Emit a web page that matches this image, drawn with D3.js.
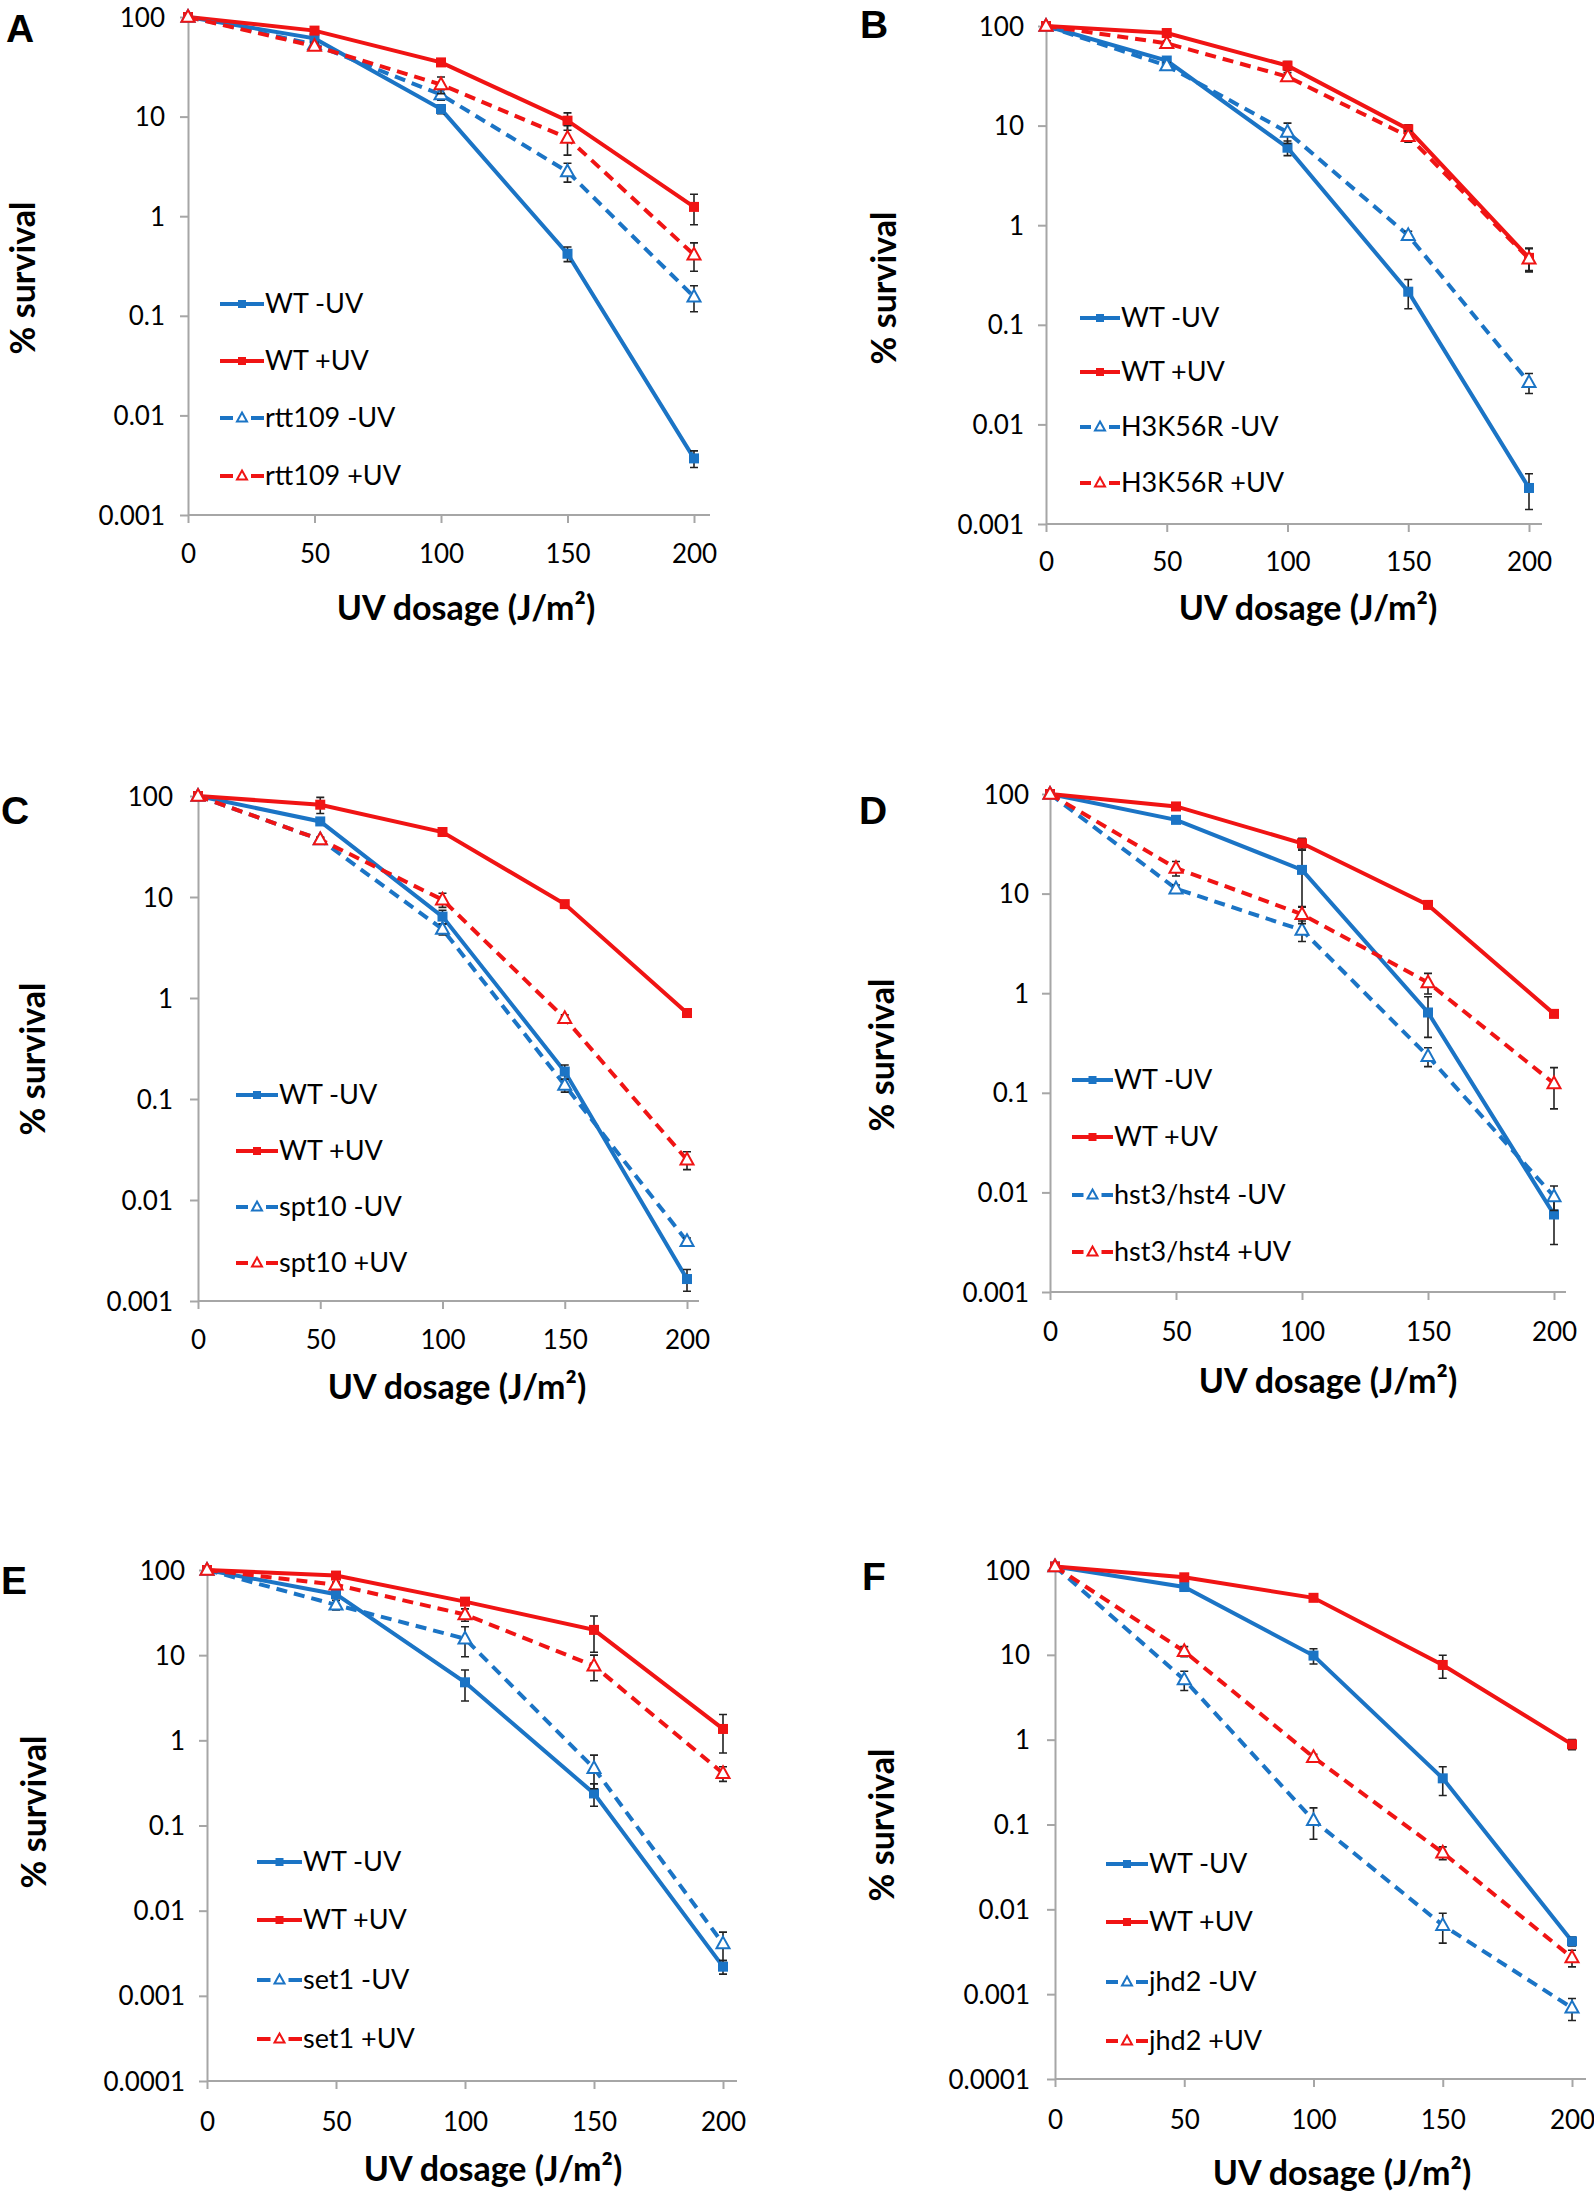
<!DOCTYPE html>
<html>
<head>
<meta charset="utf-8">
<script src="https://cdn.jsdelivr.net/npm/d3@7"></script>
<style>
  body { margin: 0; background: #fff; }
  svg text { font-family: Lato, "Open Sans", sans-serif; fill: #000; }
</style>
</head>
<body>
<svg id="fig" width="1594" height="2191"></svg>
<script>
// ---- data ----
const doses = [0, 50, 100, 150, 200];
const yTicksShort = [100, 10, 1, 0.1, 0.01, 0.001];
const yTicksLong = [100, 10, 1, 0.1, 0.01, 0.001, 0.0001];
const panelLetters = ['A', 'B', 'C', 'D', 'E', 'F'];
const mutants = ['rtt109', 'H3K56R', 'spt10', 'hst3/hst4', 'set1', 'jhd2'];

// A: rtt109
const aWtMinus = [100, 61, 11.9, 0.42, 0.0037];
const aWtMinusErr = [0, 4, 1.2, 0.07, 0.0007];
const aWtPlus = [100, 73, 35, 9.1, 1.24];
const aWtPlusErr = [0, 5, 3, 1.8, 0.42];
const aMutMinus = [100, 53, 16.6, 2.8, 0.155];
const aMutMinusErr = [0, 3, 2, 0.6, 0.045];
const aMutPlus = [100, 51, 21, 6.1, 0.41];
const aMutPlusErr = [0, 3, 4, 2, 0.13];

// B: H3K56R
const bWtMinus = [100, 45, 6.0, 0.215, 0.0023];
const bWtMinusErr = [0, 3, 1, 0.07, 0.0009];
const bWtPlus = [100, 85, 40, 9.2, 0.47];
const bWtPlusErr = [0, 5, 4, 1, 0.12];
const bMutMinus = [100, 40, 8.6, 0.79, 0.0264];
const bMutMinusErr = [0, 3, 2, 0.08, 0.006];
const bMutPlus = [100, 67, 31, 7.8, 0.46];
const bMutPlusErr = [0, 4, 3, 1, 0.12];

// C: spt10
const cWtMinus = [100, 56, 6.4, 0.187, 0.00165];
const cWtMinusErr = [0, 4, 1, 0.03, 0.0004];
const cWtPlus = [100, 82, 44, 8.5, 0.71];
const cWtPlusErr = [0, 15, 3, 0.6, 0.05];
const cMutMinus = [100, 37, 4.8, 0.137, 0.0039];
const cMutMinusErr = [0, 2, 0.6, 0.02, 0.0003];
const cMutPlus = [100, 37, 9.4, 0.63, 0.025];
const cMutPlusErr = [0, 2, 1.5, 0.05, 0.005];

// D: hst3/hst4
const dWtMinus = [100, 55, 17.3, 0.64, 0.006];
const dWtMinusErr = [0, 3, 10, 0.28, 0.003];
const dWtPlus = [100, 75, 32, 7.7, 0.62];
const dWtPlusErr = [0, 4, 4, 0.5, 0.04];
const dMutMinus = [100, 11.2, 4.3, 0.233, 0.0091];
const dMutMinusErr = [0, 1, 1, 0.05, 0.0025];
const dMutPlus = [100, 18, 6.2, 1.28, 0.124];
const dMutPlusErr = [0, 3, 1.2, 0.3, 0.055];

// E: set1
const eWtMinus = [100, 52, 4.8, 0.238, 0.0022];
const eWtMinusErr = [0, 3, 1.9, 0.07, 0.0004];
const eWtPlus = [100, 86, 42.5, 19.8, 1.36];
const eWtPlusErr = [0, 5, 4, 9, 0.65];
const eMutMinus = [100, 39, 15.6, 0.47, 0.0041];
const eMutMinusErr = [0, 5, 6, 0.2, 0.0015];
const eMutPlus = [100, 67, 30, 7.5, 0.41];
const eMutPlusErr = [0, 5, 5, 2.5, 0.08];

// F: jhd2
const fWtMinus = [110, 63, 9.8, 0.35, 0.0042];
const fWtMinusErr = [0, 3, 2, 0.13, 0.0005];
const fWtPlus = [110, 82, 47, 7.6, 0.88];
const fWtPlusErr = [0, 4, 3, 2.3, 0.12];
const fMutMinus = [110, 5.1, 0.112, 0.0065, 0.00069];
const fMutMinusErr = [0, 1.3, 0.045, 0.0025, 0.0002];
const fMutPlus = [110, 11, 0.62, 0.0465, 0.0027];
const fMutPlusErr = [0, 1.5, 0.05, 0.008, 0.0006];

const panelSeries = [
  [[aWtMinus, aWtMinusErr], [aWtPlus, aWtPlusErr], [aMutMinus, aMutMinusErr], [aMutPlus, aMutPlusErr]],
  [[bWtMinus, bWtMinusErr], [bWtPlus, bWtPlusErr], [bMutMinus, bMutMinusErr], [bMutPlus, bMutPlusErr]],
  [[cWtMinus, cWtMinusErr], [cWtPlus, cWtPlusErr], [cMutMinus, cMutMinusErr], [cMutPlus, cMutPlusErr]],
  [[dWtMinus, dWtMinusErr], [dWtPlus, dWtPlusErr], [dMutMinus, dMutMinusErr], [dMutPlus, dMutPlusErr]],
  [[eWtMinus, eWtMinusErr], [eWtPlus, eWtPlusErr], [eMutMinus, eMutMinusErr], [eMutPlus, eMutPlusErr]],
  [[fWtMinus, fWtMinusErr], [fWtPlus, fWtPlusErr], [fMutMinus, fMutMinusErr], [fMutPlus, fMutPlusErr]]
];

// ---- layout (pixel geometry of each panel) ----
const layouts = [
  { x0: 188, x1: 694, xEnd: 710, yTop: 17, yBot: 515, yMin: 0.001, lblRight: 165, tickLblY: 554,
    titleX: 466, titleY: 608, yTitleX: 23, yTitleY: 278, letterX: 6, letterY: 42,
    legX0: 220, legX1: 264, legRows: [304, 361, 418, 476] },
  { x0: 1046, x1: 1529, xEnd: 1542, yTop: 26, yBot: 524, yMin: 0.001, lblRight: 1024, tickLblY: 562,
    titleX: 1308, titleY: 608, yTitleX: 884, yTitleY: 288, letterX: 860, letterY: 38,
    legX0: 1080, legX1: 1120, legRows: [318, 372, 427, 483] },
  { x0: 198, x1: 687, xEnd: 699, yTop: 796, yBot: 1301, yMin: 0.001, lblRight: 173, tickLblY: 1340,
    titleX: 457, titleY: 1387, yTitleX: 33, yTitleY: 1059, letterX: 1, letterY: 824,
    legX0: 236, legX1: 278, legRows: [1095, 1151, 1207, 1263] },
  { x0: 1050, x1: 1554, xEnd: 1566, yTop: 794, yBot: 1292, yMin: 0.001, lblRight: 1029, tickLblY: 1332,
    titleX: 1328, titleY: 1381, yTitleX: 882, yTitleY: 1055, letterX: 859, letterY: 824,
    legX0: 1072, legX1: 1113, legRows: [1080, 1137, 1195, 1252] },
  { x0: 207, x1: 723, xEnd: 737, yTop: 1570, yBot: 2081, yMin: 0.0001, lblRight: 185, tickLblY: 2122,
    titleX: 493, titleY: 2169, yTitleX: 34, yTitleY: 1812, letterX: 1, letterY: 1594,
    legX0: 257, legX1: 302, legRows: [1862, 1920, 1980, 2039] },
  { x0: 1055, x1: 1572, xEnd: 1586, yTop: 1570, yBot: 2079, yMin: 0.0001, lblRight: 1030, tickLblY: 2120,
    titleX: 1342, titleY: 2173, yTitleX: 882, yTitleY: 1825, letterX: 862, letterY: 1590,
    legX0: 1106, legX1: 1148, legRows: [1864, 1922, 1982, 2041] }
];

const blue = '#1b74c5';
const red = '#f01414';
const axisGrey = '#a6a6a6';
const fmt = d3.format('~g');

const svg = d3.select('#fig');

function drawMarker(g, type, x, y, color, s) {
  if (type === 'square') {
    g.append('rect')
      .attr('x', x - s / 2).attr('y', y - s / 2)
      .attr('width', s).attr('height', s)
      .attr('fill', color);
  } else {
    const h = s * 0.9;
    g.append('path')
      .attr('d', `M${x},${y - h * 0.6} L${x + s / 2},${y + h * 0.4} L${x - s / 2},${y + h * 0.4} Z`)
      .attr('fill', '#fff')
      .attr('stroke', color)
      .attr('stroke-width', 2);
  }
}

function drawPanel(i) {
  const L = layouts[i];
  const g = svg.append('g');

  const x = d3.scaleLinear().domain([0, 200]).range([L.x0, L.x1]);
  const y = d3.scaleLog().domain([L.yMin, 100]).range([L.yBot, L.yTop]);
  const yTicks = L.yMin < 0.001 ? yTicksLong : yTicksShort;

  // y axis
  const ya = g.append('g').attr('transform', `translate(${L.x0},0)`)
    .call(d3.axisLeft(y).tickValues(yTicks).tickFormat(fmt).tickSize(8).tickSizeOuter(0));
  ya.select('.domain').attr('stroke', axisGrey).attr('stroke-width', 2);
  ya.selectAll('.tick line').attr('stroke', axisGrey).attr('stroke-width', 2);
  ya.selectAll('.tick text')
    .attr('x', L.lblRight - L.x0).attr('dy', '0.35em')
    .style('font-size', '26px').attr('fill', '#000');

  // x axis
  const xa = g.append('g').attr('transform', `translate(0,${L.yBot})`)
    .call(d3.axisBottom(x).tickValues(doses).tickSize(8).tickSizeOuter(0));
  xa.select('.domain').attr('d', `M${L.x0},0H${L.xEnd}`)
    .attr('stroke', axisGrey).attr('stroke-width', 2);
  xa.selectAll('.tick line').attr('stroke', axisGrey).attr('stroke-width', 2);
  xa.selectAll('.tick text')
    .attr('y', L.tickLblY - L.yBot).attr('dy', '0.35em')
    .style('font-size', '26px').attr('fill', '#000');

  // titles
  g.append('text')
    .attr('x', L.titleX).attr('y', L.titleY).attr('dy', '0.35em')
    .attr('text-anchor', 'middle')
    .style('font-size', '34px').style('font-weight', 700)
    .text('UV dosage (J/m²)');
  g.append('text')
    .attr('transform', `translate(${L.yTitleX},${L.yTitleY}) rotate(-90)`)
    .attr('dy', '0.35em').attr('text-anchor', 'middle')
    .style('font-size', '34px').style('font-weight', 700)
    .text('% survival');
  g.append('text')
    .attr('x', L.letterX).attr('y', L.letterY)
    .style('font-family', '"Liberation Sans", Arial, sans-serif')
    .style('font-size', '39px').style('font-weight', 700)
    .text(panelLetters[i]);

  const names = ['WT -UV', 'WT +UV', mutants[i] + ' -UV', mutants[i] + ' +UV'];
  const colors = [blue, red, blue, red];
  const dashed = [false, false, true, true];
  const markers = ['square', 'square', 'triangle', 'triangle'];

  const line = d3.line().x(d => x(d[0])).y(d => y(d[1]));

  panelSeries[i].forEach(([vals, errs], k) => {
    const pts = doses.map((d, j) => [d, vals[j], errs[j]]);
    const sg = g.append('g');
    sg.append('path')
      .attr('d', line(pts))
      .attr('fill', 'none')
      .attr('stroke', colors[k])
      .attr('stroke-width', 4)
      .attr('stroke-dasharray', dashed[k] ? '11,7' : null);
    // error bars
    pts.filter(p => p[2] > 0).forEach(p => {
      const cx = x(p[0]);
      const hi = y(p[1] + p[2]);
      const lo = y(Math.max(p[1] - p[2], L.yMin * 1.01));
      sg.append('path')
        .attr('d', `M${cx},${hi}V${lo}M${cx - 4},${hi}H${cx + 4}M${cx - 4},${lo}H${cx + 4}`)
        .attr('stroke', '#222').attr('stroke-width', 1.6).attr('fill', 'none');
    });
    pts.forEach(p => drawMarker(sg, markers[k], x(p[0]), y(p[1]), colors[k], markers[k] === 'square' ? 10 : 13));
  });

  // legend
  names.forEach((name, k) => {
    const ry = L.legRows[k];
    const lg = g.append('g');
    const mid = (L.legX0 + L.legX1) / 2;
    if (dashed[k]) {
      lg.append('path')
        .attr('d', `M${L.legX0},${ry}H${mid - 9}M${mid + 9},${ry}H${L.legX1}`)
        .attr('stroke', colors[k]).attr('stroke-width', 4);
    } else {
      lg.append('path')
        .attr('d', `M${L.legX0},${ry}H${L.legX1}`)
        .attr('stroke', colors[k]).attr('stroke-width', 4);
    }
    drawMarker(lg, markers[k], mid, ry, colors[k], markers[k] === 'square' ? 8 : 10);
    lg.append('text')
      .attr('x', L.legX1 + 1).attr('y', ry).attr('dy', '0.35em')
      .style('font-size', '27px')
      .text(name);
  });
}

panelLetters.forEach((_, i) => drawPanel(i));
</script>
</body>
</html>
